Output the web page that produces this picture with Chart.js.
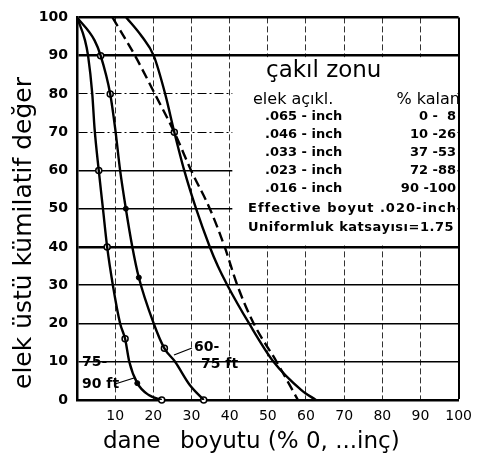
<!DOCTYPE html>
<html>
<head>
<meta charset="utf-8">
<script src="https://cdn.jsdelivr.net/npm/chart.js@4.4.1/dist/chart.umd.min.js"></script>
<style>
  html, body { margin: 0; padding: 0; background: #fff; }
</style>
</head>
<body>
<canvas id="chart" width="480" height="460"></canvas>
<script>
// curve "75-90 ft"
const c7590X = [0, 2.1, 2.9, 4.0, 4.6, 5.7, 6.8, 7.9, 9.4, 11.3, 12.6, 13.7, 15.8, 18.8, 22.2];
const c7590Y = [100, 94, 90, 80, 71, 60, 50, 40, 30, 20, 16, 10, 4.4, 1.3, 0];
// curve "60-75 ft"
const c6075X = [0, 4.6, 6.2, 8.7, 10.0, 11.3, 12.8, 14.5, 16.2, 20.1, 22.9, 25.7, 29.5, 33.2];
const c6075Y = [100, 94, 90, 80, 71, 60, 50, 40, 32, 20, 13.5, 10, 4, 0];
// upper solid curve
const solidX = [12.9, 17.0, 20.1, 23.1, 25.5, 28.1, 31.2, 34.8, 36.9, 39.4, 45.1, 51.5, 58.8, 62.6];
const solidY = [100, 95, 90, 80, 70, 60, 50, 40, 35, 30, 20, 10, 2.6, 0];
// dashed curve
const dashX = [9.3, 15.2, 20.4, 25.5, 29.9, 34.8, 38.7, 42.0, 46.3, 52.3, 57.9];
const dashY = [100, 90, 80, 70, 60, 50, 40, 30, 20, 10, 0];
// sample markers
const openMarkX = [5.7, 7.9, 12.6, 22.2, 6.2, 8.7, 22.9, 33.2, 25.5];
const openMarkY = [60, 40, 16, 0, 90, 80, 13.5, 0, 70];
const fullMarkX = [15.8, 12.8, 16.2];
const fullMarkY = [4.4, 50, 32];

const boxTitle = 'çakıl zonu';
const boxHead = ['elek açıkl.', '% kalan'];
const sieveSizes = ['.065 - inch', '.046 - inch', '.033 - inch', '.023 - inch', '.016 - inch'];
const retained = ['0 -  8', '10 -26', '37 -53', '72 -88', '90 -100'];
const boxNotes = ['Effective boyut .020-inch', 'Uniformluk katsayısı=1.75'];
const yTitle = 'elek üstü kümilatif değer';
const xTitle = ['dane', 'boyutu (% 0, ...inç)'];

const pts = (xs, ys) => xs.map((x, i) => ({ x: x, y: ys[i] }));

const hWidth = { 100: 2.5, 90: 2.5, 40: 2.5, 80: 1, 70: 1 };

const decor = {
  id: 'decor',
  beforeDatasetsDraw(chart) {
    const { ctx, scales: { x, y } } = chart;
    // white info box hides the grid inside it
    const l = x.getPixelForValue(40.7), r = x.getPixelForValue(100) - 1.2;
    const t = y.getPixelForValue(90) + 1.5, b = y.getPixelForValue(40) - 1.5;
    ctx.save();
    ctx.fillStyle = '#fff';
    ctx.fillRect(l, t, r - l, b - t);
    ctx.restore();
  },
  afterDraw(chart) {
    const { ctx } = chart;
    ctx.save();
    ctx.fillStyle = '#000';
    ctx.strokeStyle = '#000';

    // info box text
    ctx.textBaseline = 'middle';
    ctx.textAlign = 'left';
    ctx.font = '23px "DejaVu Sans"';
    ctx.fillText(boxTitle, 266, 71);
    ctx.font = '16px "DejaVu Sans"';
    ctx.fillText(boxHead[0], 253, 100);
    ctx.textAlign = 'right';
    ctx.fillText(boxHead[1], 460, 100);
    ctx.font = 'bold 13px "DejaVu Sans"';
    sieveSizes.forEach((s, i) => {
      const yy = 117 + i * 17.8;
      ctx.textAlign = 'left';
      ctx.fillText(s, 265, yy);
      ctx.textAlign = 'right';
      ctx.fillText(retained[i], 456, yy);
    });
    ctx.textAlign = 'left';
    ctx.letterSpacing = '1px';
    ctx.fillText(boxNotes[0], 248, 209);
    ctx.letterSpacing = '0.5px';
    ctx.fillText(boxNotes[1], 248, 228);
    ctx.letterSpacing = '0px';

    // curve labels with leader lines
    ctx.font = 'bold 14px "DejaVu Sans"';
    ctx.fillText('60-', 194, 347);
    ctx.fillText('75 ft', 201, 364);
    ctx.fillText('75-', 82, 362);
    ctx.fillText('90 ft', 82, 384);
    ctx.lineWidth = 1.3;
    ctx.beginPath();
    ctx.moveTo(192, 348); ctx.lineTo(174, 355);
    ctx.moveTo(115, 384); ctx.lineTo(134, 378);
    ctx.stroke();

    // axis titles
    ctx.textBaseline = 'alphabetic';
    ctx.font = '25px "DejaVu Sans"';
    ctx.translate(31, 233);
    ctx.rotate(-Math.PI / 2);
    ctx.textAlign = 'center';
    ctx.fillText(yTitle, 0, 0);
    ctx.setTransform(1, 0, 0, 1, 0, 0);
    ctx.textAlign = 'left';
    ctx.font = '23px "DejaVu Sans"';
    ctx.fillText(xTitle[0], 103, 448);
    ctx.fillText(xTitle[1], 180, 448);
    ctx.restore();
  }
};

const curveStyle = {
  borderColor: '#000',
  borderWidth: 2.4,
  pointRadius: 0,
  cubicInterpolationMode: 'monotone',
  fill: false
};

new Chart(document.getElementById('chart'), {
  type: 'line',
  data: {
    datasets: [
      Object.assign({ label: '75-90 ft', data: pts(c7590X, c7590Y) }, curveStyle),
      Object.assign({ label: '60-75 ft', data: pts(c6075X, c6075Y) }, curveStyle),
      Object.assign({ label: 'solid', data: pts(solidX, solidY) }, curveStyle),
      Object.assign({ label: 'dashed', data: pts(dashX, dashY) }, curveStyle, { borderDash: [10, 5] }),
      {
        label: 'open', data: pts(openMarkX, openMarkY), showLine: false,
        pointRadius: 3, pointBackgroundColor: '#fff', pointBorderColor: '#000',
        pointBorderWidth: 1.5, clip: false
      },
      {
        label: 'full', data: pts(fullMarkX, fullMarkY), showLine: false,
        pointRadius: 2.5, pointBackgroundColor: '#000', pointBorderColor: '#000',
        pointBorderWidth: 1, clip: false
      }
    ]
  },
  options: {
    responsive: false,
    animation: false,
    devicePixelRatio: 1,
    layout: { padding: { top: 15, right: 15, left: 0, bottom: 0 } },
    plugins: { legend: { display: false }, tooltip: { enabled: false } },
    scales: {
      x: {
        type: 'linear', min: 0, max: 100,
        afterFit: s => { s.height = 60; },
        ticks: {
          stepSize: 10, color: '#000', padding: 8,
          font: { family: 'DejaVu Sans', size: 14 },
          callback: v => v === 0 ? '' : v
        },
        grid: {
          drawTicks: false,
          color: c => (c.tick && c.tick.value === 100) ? '#000' : '#333',
          lineWidth: c => (c.tick && c.tick.value === 100) ? 2 : 1
        },
        border: {
          color: '#000', width: 2.5,
          dash: c => (c.tick && c.tick.value > 0 && c.tick.value < 100) ? [6, 3] : []
        }
      },
      y: {
        type: 'linear', min: 0, max: 100,
        afterFit: s => { s.width = 77; },
        ticks: {
          stepSize: 10, color: '#000', padding: 9,
          font: { family: 'DejaVu Sans', size: 14, weight: 'bold' }
        },
        grid: {
          drawTicks: false,
          color: '#000',
          lineWidth: c => c.tick ? (hWidth[c.tick.value] || 1.5) : 1.5
        },
        border: {
          color: '#000', width: 2.5,
          dash: c => (c.tick && (c.tick.value === 80 || c.tick.value === 70)) ? [9, 3, 2, 3] : []
        }
      }
    }
  },
  plugins: [decor]
});
</script>
</body>
</html>
